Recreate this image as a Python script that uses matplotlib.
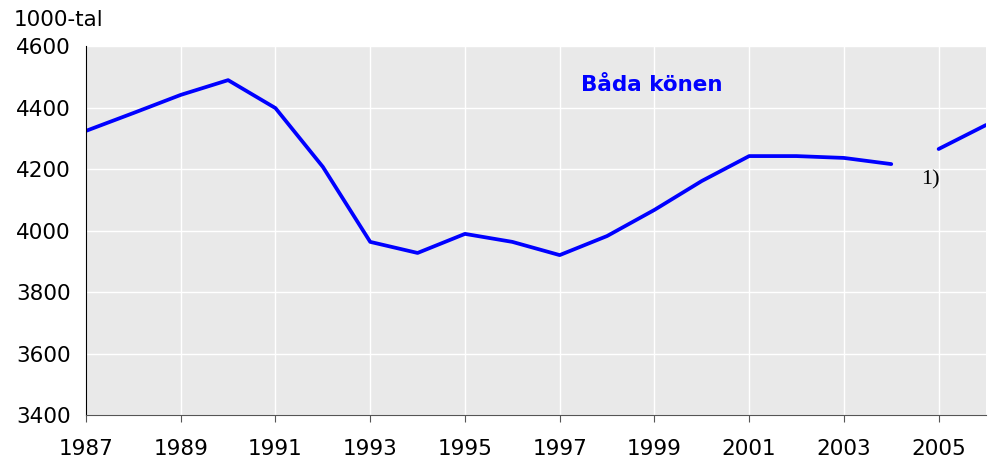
import matplotlib
matplotlib.use("Agg")
import matplotlib.pyplot as plt
import numpy as np

years = [1987, 1988, 1989, 1990, 1991, 1992, 1993, 1994, 1995, 1996,
         1997, 1998, 1999, 2000, 2001, 2002, 2003, 2004, 2005, 2006]
values = [4324, 4382, 4441, 4489, 4398, 4207, 3963, 3927, 3989, 3963,
          3920, 3982, 4067, 4161, 4242, 4242, 4236, 4216, 4265, 4343]
# series break between 2004 and 2005
break_after = 2004

x_ticks = list(range(1987, 2006, 2))
y_ticks = list(range(3400, 4601, 200))

fig = plt.figure(figsize=(9.89, 4.61), dpi=100)
ax = fig.add_axes([86/989, 1 - 415/461, 900/989, 369/461])
ax.set_facecolor('#e9e9e9')

yrs = np.array(years)
vals = np.array(values)
m = yrs <= break_after
ax.plot(yrs[m], vals[m], color='#0000ff', lw=2.7, solid_capstyle='round')
ax.plot(yrs[~m], vals[~m], color='#0000ff', lw=2.7, solid_capstyle='round')

ax.set_xlim(1987, 2006)
ax.set_ylim(3400, 4600)
ax.set_xticks(x_ticks)
ax.set_yticks(y_ticks)
ax.grid(True, color='white', lw=1)
ax.set_axisbelow(True)

for s in ['top', 'right']:
    ax.spines[s].set_visible(False)
ax.spines['left'].set_color('black')
ax.spines['bottom'].set_color('#555555')
ax.tick_params(axis='y', length=0, pad=11, labelsize=15.5)
ax.tick_params(axis='x', length=5, color='#555555', pad=12, labelsize=15.5)

ax.text(0.55, 0.895, 'Båda könen', transform=ax.transAxes, color='#0000ff',
        fontsize=15.5, fontweight='bold', ha='left', va='center')
ax.text(2004.82, 4164, '1)', family='Liberation Serif', fontsize=16,
        ha='center', va='center')
fig.text(14/989, 1 - 20/461, '1000-tal', fontsize=15.5, ha='left', va='center')

fig.savefig('out.png', dpi=100)
